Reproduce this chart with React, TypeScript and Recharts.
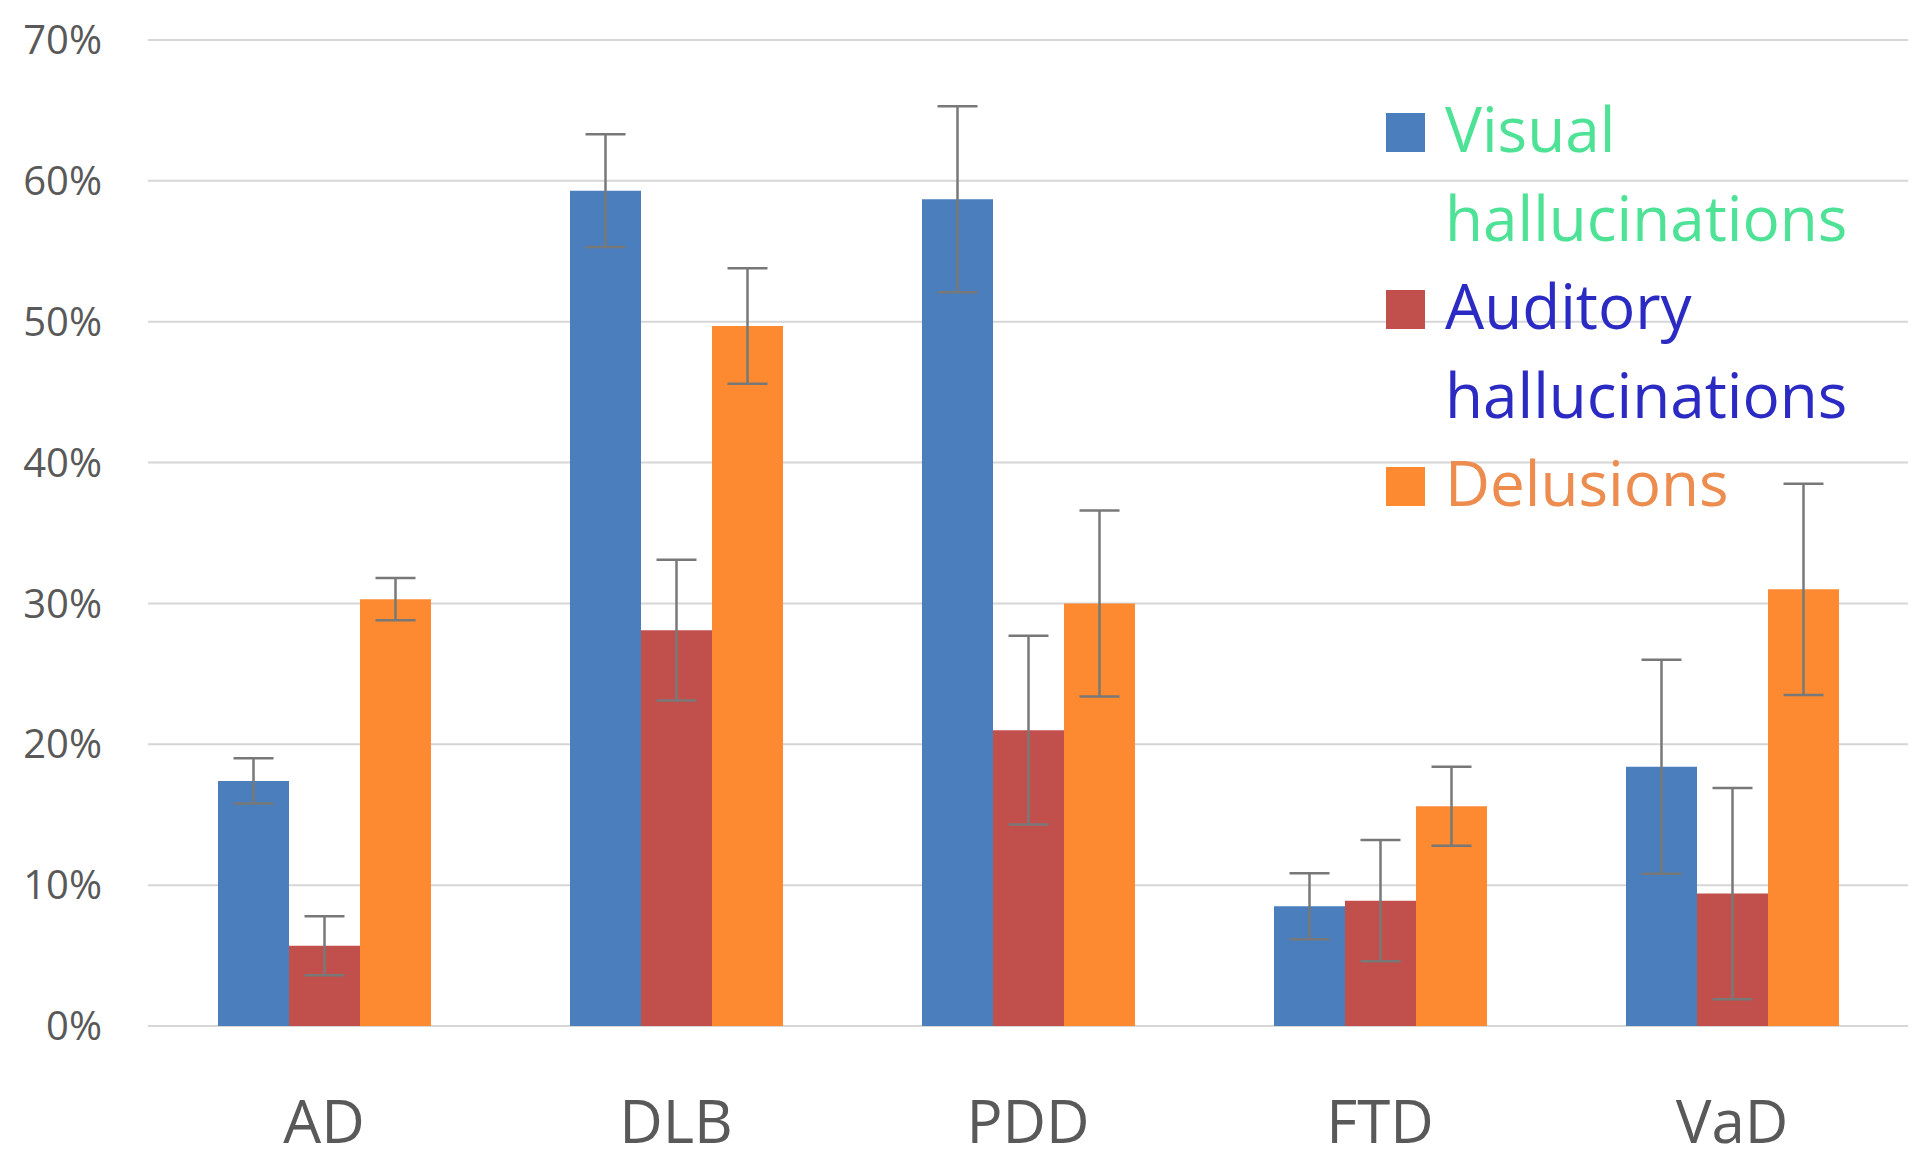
import React from 'react';
import { BarChart, Bar, XAxis, YAxis, CartesianGrid, ErrorBar, Legend } from 'recharts';

const categories = ['AD', 'DLB', 'PDD', 'FTD', 'VaD'];
const visual = [17.4, 59.3, 58.7, 8.5, 18.4];
const visualErr = [1.6, 4.0, 6.6, 2.35, 7.6];
const auditory = [5.7, 28.1, 21.0, 8.9, 9.4];
const auditoryErr = [2.1, 5.0, 6.7, 4.3, 7.5];
const delusions = [30.3, 49.7, 30.0, 15.6, 31.0];
const delusionsErr = [1.5, 4.1, 6.6, 2.8, 7.5];
const yTicks = [0, 10, 20, 30, 40, 50, 60, 70];

const seriesNames = ['Visual hallucinations', 'Auditory hallucinations', 'Delusions'];
const barColors = ['#4a7ebd', '#c14f4b', '#fd8a30'];
const legendTextColors = ['#4ee296', '#2b2bc4', '#ec8c4e'];

const data = categories.map((c, i) => ({
  name: c,
  visual: visual[i],
  visualErr: visualErr[i],
  auditory: auditory[i],
  auditoryErr: auditoryErr[i],
  delusions: delusions[i],
  delusionsErr: delusionsErr[i],
}));

const FONT = '"Open Sans", "Noto Sans", sans-serif';

const renderLegend = () => (
  <div style={{ fontFamily: FONT, fontSize: 62, lineHeight: '88.5px' }}>
    {seriesNames.map((name, i) => (
      <div key={name} style={{ display: 'flex', alignItems: 'flex-start' }}>
        <div
          style={{
            width: 39,
            height: 39,
            background: barColors[i],
            marginTop: 29,
            marginRight: 20,
            flex: '0 0 auto',
          }}
        />
        <div style={{ color: legendTextColors[i] }}>
          {name.split(' ').map((w) => (
            <div key={w}>{w}</div>
          ))}
        </div>
      </div>
    ))}
  </div>
);

export default function App() {
  return (
    <div style={{ position: 'absolute', left: 0, top: 0, width: 1920, height: 1163, background: '#fff' }}>
      <BarChart
        width={1920}
        height={1163}
        data={data}
        margin={{ top: 40, right: 12, left: 0, bottom: 0 }}
        barGap={0}
        barSize={71}
      >
        <CartesianGrid vertical={false} stroke="#d6d6d6" strokeWidth={2} />
        <XAxis
          dataKey="name"
          height={137}
          axisLine={false}
          tickLine={false}
          tickSize={0}
          tickMargin={74}
          tick={{ fill: '#595959', fontSize: 60, fontFamily: FONT }}
        />
        <YAxis
          width={148}
          domain={[0, 70]}
          ticks={yTicks}
          axisLine={false}
          tickLine={false}
          tickSize={0}
          tickMargin={46}
          tickFormatter={(v) => `${v}%`}
          tick={{ fill: '#595959', fontSize: 40, fontFamily: FONT }}
        />
        <Legend
          layout="vertical"
          align="center"
          verticalAlign="middle"
          content={renderLegend}
          wrapperStyle={{ left: 1386, top: 84, width: 520 }}
        />
        <Bar dataKey="visual" name={seriesNames[0]} fill={barColors[0]} isAnimationActive={false}>
          <ErrorBar dataKey="visualErr" width={20} stroke="#787878" strokeWidth={2.5} direction="y" />
        </Bar>
        <Bar dataKey="auditory" name={seriesNames[1]} fill={barColors[1]} isAnimationActive={false}>
          <ErrorBar dataKey="auditoryErr" width={20} stroke="#787878" strokeWidth={2.5} direction="y" />
        </Bar>
        <Bar dataKey="delusions" name={seriesNames[2]} fill={barColors[2]} isAnimationActive={false}>
          <ErrorBar dataKey="delusionsErr" width={20} stroke="#787878" strokeWidth={2.5} direction="y" />
        </Bar>
      </BarChart>
    </div>
  );
}
